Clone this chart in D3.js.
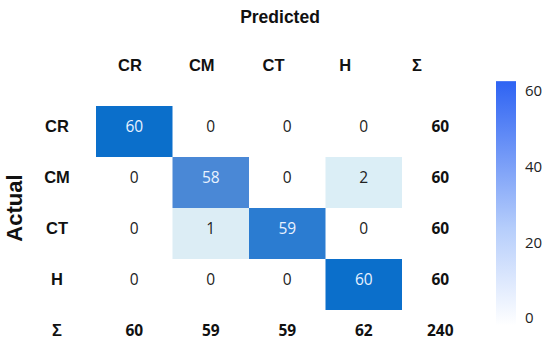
<!DOCTYPE html>
<html>
<head>
<meta charset="utf-8">
<script src="https://cdn.jsdelivr.net/npm/d3@7"></script>
<style>
  body { margin: 0; background: #fff; }
  text { font-family: "Liberation Sans", Arial, sans-serif; }
</style>
</head>
<body>
<div class="chart"></div>
<script>
const classes = ['CR', 'CM', 'CT', 'H'];
const sumLabel = 'Σ';
const matrix = [
  [60, 0, 0, 0],
  [0, 58, 0, 2],
  [0, 1, 59, 0],
  [0, 0, 0, 60],
];
const rowSums = [60, 60, 60, 60];
const colSums = [60, 59, 59, 62];
const total = 240;
const colorbarTicks = [0, 20, 40, 60];

const width = 550;
const height = 344;

const svg = d3.select('.chart')
  .append('svg')
  .attr('width', width)
  .attr('height', height);

const labels = classes.concat([sumLabel]);

// cell grid
const x = d3.scaleBand().domain(labels).range([96, 478.5]);
const y = d3.scaleBand().domain(labels).range([106, 361]);
// header labels sit a bit tighter than the cells
const xHead = d3.scalePoint().domain(labels).range([130, 417]);

const cellColor = d3.scaleLinear()
  .domain([0, 1, 2, 58, 60])
  .range(['#ffffff', '#dcedf5', '#dbeef6', '#4a88d6', '#0b6fcb'])
  .clamp(true);

const cells = [];
matrix.forEach((row, i) => row.forEach((v, j) => {
  cells.push({ r: classes[i], c: classes[j], v });
}));

const textShift = -6;

svg.selectAll('rect.cell')
  .data(cells.filter(d => d.v > 0))
  .enter().append('rect')
  .attr('class', 'cell')
  .attr('x', d => x(d.c))
  .attr('y', d => y(d.r))
  .attr('width', x.bandwidth())
  .attr('height', y.bandwidth())
  .attr('fill', d => cellColor(d.v));

svg.selectAll('text.val')
  .data(cells)
  .enter().append('text')
  .attr('class', 'val')
  .attr('x', d => x(d.c) + x.bandwidth() / 2)
  .attr('y', d => y(d.r) + y.bandwidth() / 2 + textShift)
  .attr('text-anchor', 'middle')
  .attr('dominant-baseline', 'central')
  .style('font-family', '"Open Sans", sans-serif')
  .style('font-size', '15.5px')
  .attr('fill', d => (d.v > 30 ? '#e8f2ff' : '#222'))
  .text(d => d.v);

// sums
const sums = rowSums.map((v, i) => ({ r: classes[i], c: sumLabel, v }))
  .concat(colSums.map((v, j) => ({ r: sumLabel, c: classes[j], v })))
  .concat([{ r: sumLabel, c: sumLabel, v: total }]);

svg.selectAll('text.sum')
  .data(sums)
  .enter().append('text')
  .attr('class', 'sum')
  .attr('x', d => x(d.c) + x.bandwidth() / 2)
  .attr('y', d => y(d.r) + y.bandwidth() / 2 + textShift)
  .attr('text-anchor', 'middle')
  .attr('dominant-baseline', 'central')
  .style('font-family', '"Open Sans", sans-serif')
  .style('font-weight', 'bold')
  .style('font-size', '15.5px')
  .attr('fill', '#111')
  .text(d => d.v);

// column headers
svg.selectAll('text.colHead')
  .data(labels)
  .enter().append('text')
  .attr('class', 'colHead')
  .attr('x', d => xHead(d))
  .attr('y', 65)
  .attr('text-anchor', 'middle')
  .attr('dominant-baseline', 'central')
  .style('font-weight', 'bold')
  .style('font-size', '16.5px')
  .attr('fill', '#111')
  .text(d => d);

// row headers
svg.selectAll('text.rowHead')
  .data(labels)
  .enter().append('text')
  .attr('class', 'rowHead')
  .attr('x', 57)
  .attr('y', d => y(d) + y.bandwidth() / 2 + textShift)
  .attr('text-anchor', 'middle')
  .attr('dominant-baseline', 'central')
  .style('font-weight', 'bold')
  .style('font-size', '16.5px')
  .attr('fill', '#111')
  .text(d => d);

svg.append('text')
  .attr('x', 280)
  .attr('y', 17)
  .attr('text-anchor', 'middle')
  .attr('dominant-baseline', 'central')
  .style('font-weight', 'bold')
  .style('font-size', '17.5px')
  .attr('fill', '#111')
  .text('Predicted');

svg.append('text')
  .attr('transform', 'translate(14,208) rotate(-90)')
  .attr('text-anchor', 'middle')
  .attr('dominant-baseline', 'central')
  .style('font-weight', 'bold')
  .style('font-size', '22px')
  .attr('fill', '#111')
  .text('Actual');

// colorbar
const cbScale = d3.scaleLinear().domain([0, 60]).range([318, 91]);
const defs = svg.append('defs');
const grad = defs.append('linearGradient')
  .attr('id', 'cbGrad')
  .attr('x1', 0).attr('y1', 1)
  .attr('x2', 0).attr('y2', 0);
grad.append('stop').attr('offset', '0%').attr('stop-color', '#ffffff');
grad.append('stop').attr('offset', '40%').attr('stop-color', '#b5cdfb');
grad.append('stop').attr('offset', '100%').attr('stop-color', '#2e63f3');

const cbTop = cbScale(62.6);
const cbBottom = cbScale(-2);
svg.append('rect')
  .attr('x', 496)
  .attr('y', cbTop)
  .attr('width', 20)
  .attr('height', cbBottom - cbTop)
  .attr('fill', 'url(#cbGrad)');

const cbAxis = d3.axisRight(cbScale)
  .tickValues(colorbarTicks)
  .tickSize(0)
  .tickPadding(9);

const cbGroup = svg.append('g')
  .attr('transform', 'translate(516,0)')
  .call(cbAxis);
cbGroup.select('.domain').remove();
cbGroup.selectAll('text')
  .style('font-family', '"Open Sans", sans-serif')
  .style('font-size', '15px')
  .attr('fill', '#222');
</script>
</body>
</html>
